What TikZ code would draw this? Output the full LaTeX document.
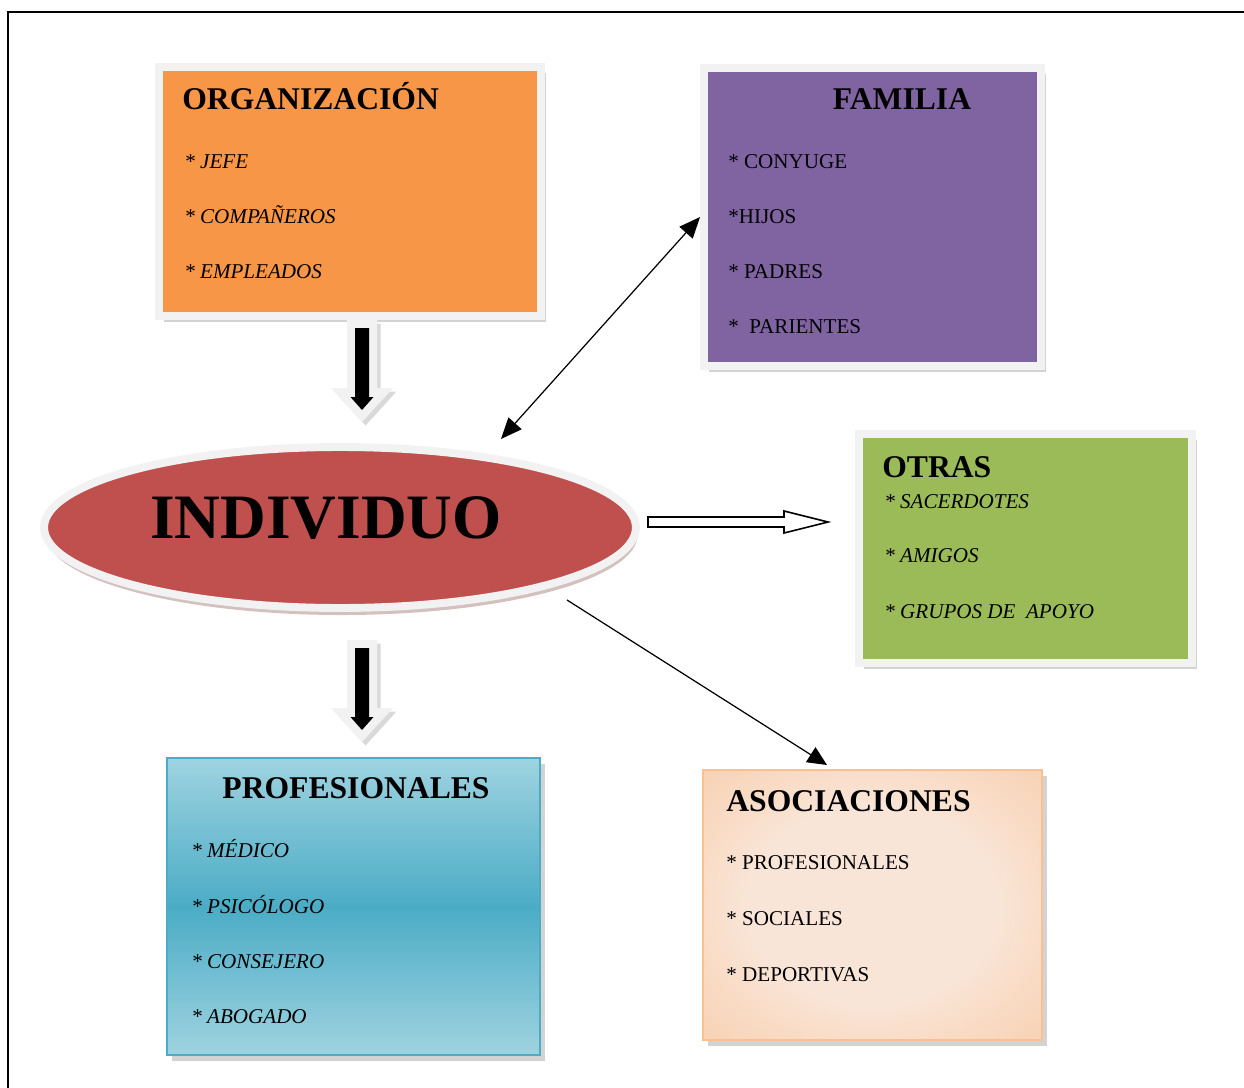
\documentclass[tikz,border=0pt]{standalone}
\usepackage{fontspec}
\setmainfont{Liberation Serif}
\usetikzlibrary{arrows.meta,shapes.geometric,shadows}

\definecolor{edgegray}{HTML}{F2F2F2}
\definecolor{orgorange}{HTML}{F79646}
\definecolor{fampurple}{HTML}{8064A2}
\definecolor{otrgreen}{HTML}{9BBB59}
\definecolor{indred}{HTML}{C0504D}
\definecolor{profblue}{HTML}{4BACC6}
\definecolor{proflight}{HTML}{9FD3E0}
\definecolor{asocpeach}{HTML}{F7B985}
\definecolor{asoclight}{HTML}{F9E5D7}
\definecolor{asocedge}{HTML}{F9C094}

\pgfdeclareradialshading{asocshade}{\pgfpoint{0bp}{0bp}}{color(0bp)=(asoclight); color(18bp)=(asoclight); color(58bp)=(asocpeach)}

% thick arrow pointing down, starting at the given point
\newcommand\blockdown[1]{%
  \fill[edgegray, drop shadow={shadow xshift=2pt, shadow yshift=-2pt, opacity=0.3}]
    (#1) ++(-15,0) -- ++(30,0) -- ++(0,68) -- ++(16,0) -- ++(-31,34) -- ++(-31,-34) -- ++(16,0) -- cycle;
  \fill[black]
    (#1) ++(-7,8) -- ++(14,0) -- ++(0,69) -- ++(4.5,0) -- ++(-11.5,13) -- ++(-11.5,-13) -- ++(4.5,0) -- cycle;
}

\begin{document}
\begin{tikzpicture}[x=0.02cm,y=-0.02cm,
    box/.style={rectangle, inner sep=0pt, draw=edgegray, line width=4.5pt,
        drop shadow={shadow xshift=3pt, shadow yshift=-3.5pt, opacity=0.35}},
    head/.style={anchor=base west, inner sep=0pt, font=\fontsize{18}{21}\selectfont\bfseries},
    item/.style={anchor=base west, inner sep=0pt, font=\fontsize{12}{14}\selectfont},
    itemit/.style={anchor=base west, inner sep=0pt, font=\fontsize{12}{14}\selectfont\itshape},
    thinarrow/.style={line width=0.7pt}]
\useasboundingbox (0,0) rectangle (1244,1088);

% page frame
\draw[line width=1.2pt] (8,1088) -- (8,12) -- (1244,12);

% boxes
\node[box, fill=orgorange, minimum width=7.64cm, minimum height=4.98cm] (org) at (350,191.5) {};
\node[box, fill=fampurple, minimum width=6.74cm, minimum height=5.96cm] (fam) at (872.5,217) {};
\node[box, fill=otrgreen, minimum width=6.66cm, minimum height=4.58cm] (otr) at (1025.5,548.5) {};
\node[rectangle, inner sep=0pt, draw=profblue, line width=1.2pt,
      top color=proflight, bottom color=proflight, middle color=profblue,
      drop shadow={shadow xshift=3pt, shadow yshift=-3.5pt, opacity=0.35},
      minimum width=7.46cm, minimum height=5.94cm] (prof) at (353.5,906.5) {};
\node[rectangle, inner sep=0pt, draw=asocedge, line width=1.2pt, shading=asocshade,
      drop shadow={shadow xshift=3pt, shadow yshift=-3.5pt, opacity=0.35},
      minimum width=6.78cm, minimum height=5.4cm] (asoc) at (872.5,905) {};
\node[ellipse, inner sep=0pt, draw=edgegray, line width=4.5pt, fill=indred,
      drop shadow={shadow xshift=1pt, shadow yshift=-4pt, opacity=0.3, fill=indred!60!black},
      minimum width=11.84cm, minimum height=3.22cm] (indiv) at (340,527.5) {};

% arrow ends
\coordinate (orgB) at (362,320);
\coordinate (indB) at (362,640);
\coordinate (indTR) at (501,439);
\coordinate (indR) at (648,522);
\coordinate (indBR) at (567,600);
\coordinate (asocT) at (827,765);

% connectors
\blockdown{orgB}
\blockdown{indB}
\draw[thinarrow, {Triangle[length=12pt,width=10pt]}-{Triangle[length=12pt,width=10pt]}] (indTR) -- (fam.west);
\draw[thinarrow, -{Triangle[length=11pt,width=10pt]}] (indBR) -- (asocT);
\draw[line width=0.9pt, fill=white] (indR) ++(0,-5) -- ++(136,0) -- ++(0,-6) -- ++(44,11) -- ++(-44,11) -- ++(0,-6) -- ++(-136,0) -- cycle;

% texts
\node[anchor=base west, inner sep=0pt, font=\fontsize{36}{40}\selectfont\bfseries] (indT) at (150,538) {INDIVIDUO};

\node[head] (orgT) at (182,110) {ORGANIZACIÓN};
\node[itemit] (org1) at (184,169) {* JEFE};
\node[itemit] (org2) at (184,223) {* COMPAÑEROS};
\node[itemit] (org3) at (184,278) {* EMPLEADOS};

\node[head, anchor=base] (famT) at (902,110) {FAMILIA};
\node[item] (fam1) at (728,169) {* CONYUGE};
\node[item] (fam2) at (728,223) {*HIJOS};
\node[item] (fam3) at (728,278) {* PADRES};
\node[item] (fam4) at (728,333) {*~ PARIENTES};

\node[head] (otrT) at (882,477) {OTRAS};
\node[itemit] (otr1) at (884,508) {* SACERDOTES};
\node[itemit] (otr2) at (884,562) {* AMIGOS};
\node[itemit] (otr3) at (884,618) {* GRUPOS DE~ APOYO};

\node[head, anchor=base] (profT) at (356,798) {PROFESIONALES};
\node[itemit] (prof1) at (191,857) {* MÉDICO};
\node[itemit] (prof2) at (191,913) {* PSICÓLOGO};
\node[itemit] (prof3) at (191,968) {* CONSEJERO};
\node[itemit] (prof4) at (191,1023) {* ABOGADO};

\node[head] (asocH) at (726,811) {ASOCIACIONES};
\node[item] (asoc1) at (726,869) {* PROFESIONALES};
\node[item] (asoc2) at (726,925) {* SOCIALES};
\node[item] (asoc3) at (726,981) {* DEPORTIVAS};

\end{tikzpicture}
\end{document}
